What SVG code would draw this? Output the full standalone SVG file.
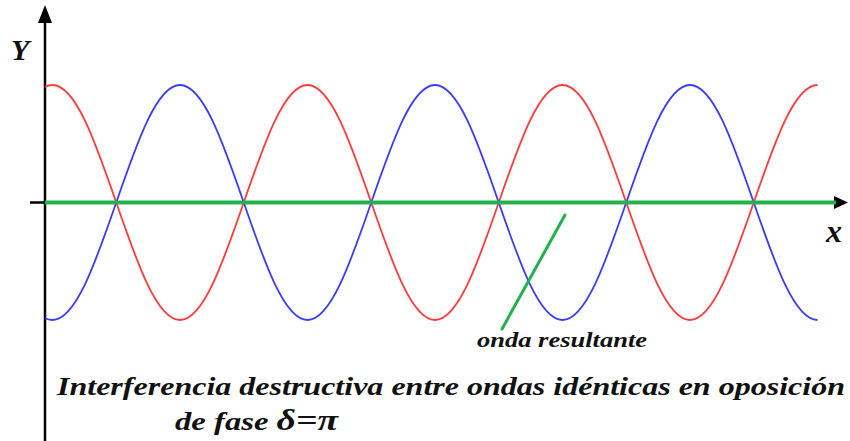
<svg xmlns="http://www.w3.org/2000/svg" width="850" height="441" viewBox="0 0 850 441">
<style>
.ax{stroke:#000;stroke-width:2.5;fill:none}
.wave{fill:none;stroke-width:1.8}
.red{stroke:#ff3b3b}
.blue{stroke:#3b3bff}
.green{stroke:#22b14c;fill:none}
.lbl{font-family:"Liberation Serif","Times New Roman",serif;font-weight:bold;font-style:italic;fill:#111}
</style>
<rect width="850" height="441" fill="#fff"/>
<g id="axes">
<line class="ax" x1="45" y1="20" x2="45" y2="441"/>
<polygon points="45,5 38,23 52,23" fill="#000"/>
<line class="ax" x1="30" y1="202.5" x2="836" y2="202.5"/>
<polygon points="848,202.5 834,196 834,209" fill="#000"/>
</g>
<g id="waves">
<path id="red-wave" class="wave red" d="M45,86.7 Q48.7,85 52.5,85
c22.95,0 42.44,55.8 63.75,117.5 c21.31,61.7 40.8,117.5 63.75,117.5 c22.95,0 42.44,-55.8 63.75,-117.5 c21.31,-61.7 40.8,-117.5 63.75,-117.5
c22.95,0 42.44,55.8 63.75,117.5 c21.31,61.7 40.8,117.5 63.75,117.5 c22.95,0 42.44,-55.8 63.75,-117.5 c21.31,-61.7 40.8,-117.5 63.75,-117.5
c22.95,0 42.44,55.8 63.75,117.5 c21.31,61.7 40.8,117.5 63.75,117.5 c22.95,0 42.44,-55.8 63.75,-117.5 c21.31,-61.7 40.8,-117.5 63.75,-117.5"/>
<path id="blue-wave" class="wave blue" d="M45,318.3 Q48.7,320 52.5,320
c22.95,0 42.44,-55.8 63.75,-117.5 c21.31,-61.7 40.8,-117.5 63.75,-117.5 c22.95,0 42.44,55.8 63.75,117.5 c21.31,61.7 40.8,117.5 63.75,117.5
c22.95,0 42.44,-55.8 63.75,-117.5 c21.31,-61.7 40.8,-117.5 63.75,-117.5 c22.95,0 42.44,55.8 63.75,117.5 c21.31,61.7 40.8,117.5 63.75,117.5
c22.95,0 42.44,-55.8 63.75,-117.5 c21.31,-61.7 40.8,-117.5 63.75,-117.5 c22.95,0 42.44,55.8 63.75,117.5 c21.31,61.7 40.8,117.5 63.75,117.5"/>
</g>
<g id="resultant">
<line class="green" x1="45" y1="202.5" x2="836" y2="202.5" stroke-width="4"/>
<line class="green" x1="565" y1="215" x2="502" y2="329" stroke-width="3" stroke-linecap="round"/>
</g>
<g id="labels">
<text class="lbl" x="11" y="60" font-size="30">Y</text>
<text class="lbl" x="826" y="242" font-size="32">x</text>
<text class="lbl" x="477" y="347" font-size="20" textLength="170" lengthAdjust="spacingAndGlyphs">onda resultante</text>
<text class="lbl" x="57" y="395" font-size="26" textLength="788" lengthAdjust="spacingAndGlyphs">Interferencia destructiva entre ondas idénticas en oposición</text>
<text class="lbl" x="175" y="430" font-size="26" textLength="163" lengthAdjust="spacingAndGlyphs">de fase <tspan font-size="30">δ=π</tspan></text>
</g>
</svg>
